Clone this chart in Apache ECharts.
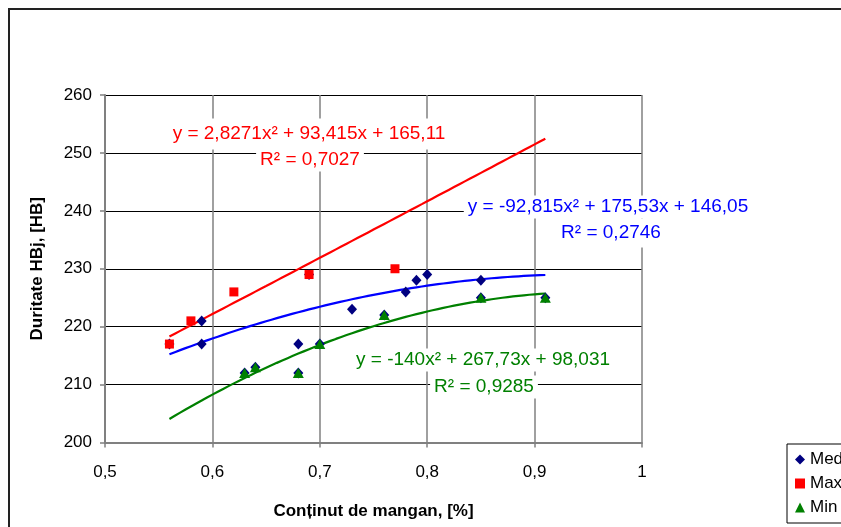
<!DOCTYPE html>
<html>
<head>
<meta charset="utf-8">
<script src="https://cdn.jsdelivr.net/npm/echarts@6/dist/echarts.min.js"></script>
<style>
html, body { margin: 0; padding: 0; background: #ffffff; }
#chart { width: 841px; height: 527px; }
</style>
</head>
<body>
<div id="chart"></div>
<script>
// Manganese content [%] vs. hardness HBj [HB]
const medieX = [0.56, 0.59, 0.59, 0.63, 0.64, 0.68, 0.68, 0.69, 0.70, 0.73, 0.76, 0.78, 0.79, 0.80, 0.85, 0.85, 0.91];
const medieY = [217, 221, 217, 212, 213, 217, 212, 229, 217, 223, 222, 226, 228, 229, 228, 225, 225];
const maxX = [0.56, 0.58, 0.62, 0.69, 0.77];
const maxY = [217, 221, 226, 229, 230];
const minX = [0.63, 0.64, 0.68, 0.70, 0.76, 0.85, 0.91];
const minY = [212, 213, 212, 217, 222, 225, 225];

// Second-order trendline coefficients [a, b, c] for y = a·x² + b·x + c
const maxFit = [2.8271, 93.415, 165.11];
const medieFit = [-92.815, 175.53, 146.05];
const minFit = [-140, 267.73, 98.031];
const fitRange = [0.56, 0.91];

const seriesNames = ['Medie', 'Max', 'Min'];
const xTicks = { min: 0.5, max: 1, step: 0.1 };
const yTicks = { min: 200, max: 260, step: 10 };

function pairs(xs, ys) { return xs.map((x, i) => [x, ys[i]]); }
function curve(coef) {
  const pts = [];
  const n = 70;
  for (let i = 0; i <= n; i++) {
    const x = fitRange[0] + (fitRange[1] - fitRange[0]) * i / n;
    pts.push([x, coef[0] * x * x + coef[1] * x + coef[2]]);
  }
  return pts;
}
function fmt(v) { return String(+v.toFixed(2)).replace('.', ','); }

const FONT = '"Liberation Sans", Arial, sans-serif';

const chart = echarts.init(document.getElementById('chart'), null, { renderer: 'canvas' });

function eqText(text, x, y, color, pad) {
  return {
    type: 'text', x: x, y: y, z: 50,
    style: {
      text: text, fill: color, font: '19px ' + FONT,
      align: 'center', verticalAlign: 'middle',
      backgroundColor: '#ffffff', padding: pad
    }
  };
}

chart.setOption({
  animation: false,
  backgroundColor: '#ffffff',
  grid: { left: 105, top: 95, right: 199, bottom: 84.5, containLabel: false },
  xAxis: {
    type: 'value', min: xTicks.min, max: xTicks.max, interval: xTicks.step,
    name: 'Conținut de mangan, [%]', nameLocation: 'middle', nameGap: 60,
    nameTextStyle: { fontFamily: FONT, fontSize: 17, fontWeight: 'bold', color: '#000' },
    axisLine: { show: true, onZero: false, lineStyle: { color: '#808080', width: 2 } },
    axisTick: { show: true, inside: false, length: 5, lineStyle: { color: '#808080', width: 1.5 } },
    axisLabel: { fontFamily: FONT, fontSize: 17, color: '#000', margin: 21, formatter: fmt },
    splitLine: { show: true, lineStyle: { color: '#808080', width: 1.5 } }
  },
  yAxis: {
    type: 'value', min: yTicks.min, max: yTicks.max, interval: yTicks.step,
    name: 'Duritate HBj, [HB]', nameLocation: 'middle', nameGap: 59,
    nameTextStyle: { fontFamily: FONT, fontSize: 17, fontWeight: 'bold', color: '#000' },
    axisLine: { show: true, lineStyle: { color: '#808080', width: 2 } },
    axisTick: { show: true, inside: false, length: 5, lineStyle: { color: '#808080', width: 1.5 } },
    axisLabel: { fontFamily: FONT, fontSize: 17, color: '#000', margin: 13 },
    splitLine: { show: true, lineStyle: { color: '#000000', width: 1.2 } }
  },
  legend: {
    data: seriesNames,
    orient: 'vertical', left: 787, top: 444,
    padding: [7, 8, 7, 8], itemGap: 7, itemWidth: 10, itemHeight: 10,
    borderColor: '#000', borderWidth: 1, backgroundColor: '#fff',
    textStyle: { fontFamily: FONT, fontSize: 17, color: '#000' }
  },
  series: [
    { name: 'fitMedie', type: 'line', data: curve(medieFit), showSymbol: false, z: 2,
      lineStyle: { color: '#0000ff', width: 2.2 }, silent: true },
    { name: 'fitMax', type: 'line', data: curve(maxFit), showSymbol: false, z: 2,
      lineStyle: { color: '#ff0000', width: 2.2 }, silent: true },
    { name: 'fitMin', type: 'line', data: curve(minFit), showSymbol: false, z: 2,
      lineStyle: { color: '#008000', width: 2.2 }, silent: true },
    { name: seriesNames[0], type: 'scatter', data: pairs(medieX, medieY), z: 3,
      symbol: 'diamond', symbolSize: [10, 11], itemStyle: { color: '#000080', opacity: 1 } },
    { name: seriesNames[1], type: 'scatter', data: pairs(maxX, maxY), z: 4,
      symbol: 'rect', symbolSize: 9, itemStyle: { color: '#ff0000', opacity: 1 } },
    { name: seriesNames[2], type: 'scatter', data: pairs(minX, minY), z: 5,
      symbol: 'triangle', symbolSize: [11, 10], itemStyle: { color: '#008000', opacity: 1 } }
  ],
  graphic: [
    { type: 'rect', z: 100, shape: { x: 9, y: 9, width: 900, height: 600 },
      style: { fill: 'none', stroke: '#222', lineWidth: 2 } },
    eqText('y = 2,8271x² + 93,415x + 165,11', 309, 134, '#ff0000', [2, 4, 10, 4]),
    eqText('R² = 0,7027', 310, 160, '#ff0000', [2, 4, 2, 4]),
    eqText('y = -92,815x² + 175,53x + 146,05', 608, 207, '#0000ff', [2, 4, 2, 4]),
    eqText('R² = 0,2746', 611, 233, '#0000ff', [2, 4, 8, 4]),
    eqText('y = -140x² + 267,73x + 98,031', 483, 360, '#008000', [2, 4, 2, 4]),
    eqText('R² = 0,9285', 484, 387, '#008000', [2, 4, 2, 4])
  ]
});
</script>
</body>
</html>
